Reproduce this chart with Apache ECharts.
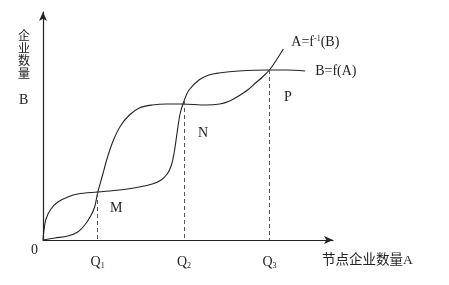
<!DOCTYPE html>
<html><head><meta charset="utf-8">
<script src="https://cdn.jsdelivr.net/npm/echarts@6/dist/echarts.min.js"></script>
<style>html,body{margin:0;padding:0;background:#fff}#c{width:449px;height:285px}</style>
</head><body><div id="c"></div>
<script>
// Curve B = f(A)
var curveF = [[0,0],[1,10],[3,21],[8,31],[15,38],[25,43],[35,46],[55,48],[77,50],[97,53],[110,56],[119,60],[125,66],[129,74],[132,87],[135,107],[138,126],[142,139],[147,150],[157,160],[167,165],[177,167],[197,169],[227,170],[245,170],[264,169]];
// Curve A = f^-1(B)
var curveInv = [[0,0],[12,2],[25,4],[35,8],[42,15],[48,24],[52,33],[55,47],[60,65],[65,83],[71,100],[78,114],[87,125],[97,132],[110,135],[125,136],[140,136],[164,135],[178,136],[188,139],[197,144],[206,150],[214,157],[221,163],[228,170],[235,180],[242,191]];
var qValues = [55,142,228];
var qHeights = [47,139,170];
var qLabels = ['Q1','Q2','Q3'];
var pointLabels = ['M','N','P'];

var serif = '"Liberation Serif","Noto Sans CJK SC",serif';
var chart = echarts.init(document.getElementById('c'));
var dashData = qValues.map(function(q,i){return [{coord:[q,qHeights[i]]},{coord:[q,0]}];});
chart.setOption({
  animation:false,
  grid:{left:43,right:116,top:12,bottom:45},
  xAxis:{type:'value',min:0,max:292,
    axisLine:{show:true,symbol:['none','arrow'],symbolSize:[6,9],lineStyle:{color:'#222',width:1.2}},
    axisTick:{show:false},splitLine:{show:false},
    axisLabel:{customValues:qValues,margin:14,fontFamily:serif,fontSize:14,color:'#222',
      formatter:function(v){var i=qValues.indexOf(v);return i<0?'':'{a|'+qLabels[i].charAt(0)+'}{s|'+qLabels[i].slice(1)+'}';},
      rich:{a:{fontFamily:serif,fontSize:14,color:'#222'},s:{fontFamily:serif,fontSize:8,color:'#222',padding:[8,0,0,0]}}}
  },
  yAxis:{type:'value',min:0,max:228,
    axisLine:{show:true,symbol:['none','arrow'],symbolSize:[6,9],lineStyle:{color:'#222',width:1.2}},
    axisTick:{show:false},splitLine:{show:false},axisLabel:{show:false}},
  series:[
    {type:'line',data:curveF,smooth:0.35,showSymbol:false,lineStyle:{color:'#222',width:1.1},
     endLabel:{show:true,formatter:'B=f(A)',distance:10,fontFamily:serif,fontSize:14,color:'#222'},
     markLine:{symbol:'none',silent:true,label:{show:false},lineStyle:{type:[4,3],color:'#555',width:1},data:dashData}},
    {type:'line',data:curveInv,smooth:0.35,showSymbol:false,lineStyle:{color:'#222',width:1.1},
     endLabel:{show:true,formatter:'{a|A=f}{s|-1}{a|(B)}',distance:8,offset:[0,-7],
       rich:{a:{fontFamily:serif,fontSize:14,color:'#222'},s:{fontFamily:serif,fontSize:8,color:'#222',padding:[0,0,7,0]}}}}
  ],
  graphic:[
    {type:'text',left:18,top:31,style:{text:'企\n业\n数\n量',font:'12px '+serif,lineHeight:12.5,fill:'#222'}},
    {type:'text',left:19,top:93,style:{text:'B',font:'14px '+serif,fill:'#222'}},
    {type:'text',left:31,top:243,style:{text:'0',font:'14px '+serif,fill:'#222'}},
    {type:'text',left:322,top:254,style:{text:'节点企业数量A',font:'13.5px '+serif,fill:'#222'}},
    {type:'text',left:110,top:201,style:{text:pointLabels[0],font:'14px '+serif,fill:'#222'}},
    {type:'text',left:198,top:126,style:{text:pointLabels[1],font:'14px '+serif,fill:'#222'}},
    {type:'text',left:284,top:90,style:{text:pointLabels[2],font:'14px '+serif,fill:'#222'}}
  ]
});
</script></body></html>
